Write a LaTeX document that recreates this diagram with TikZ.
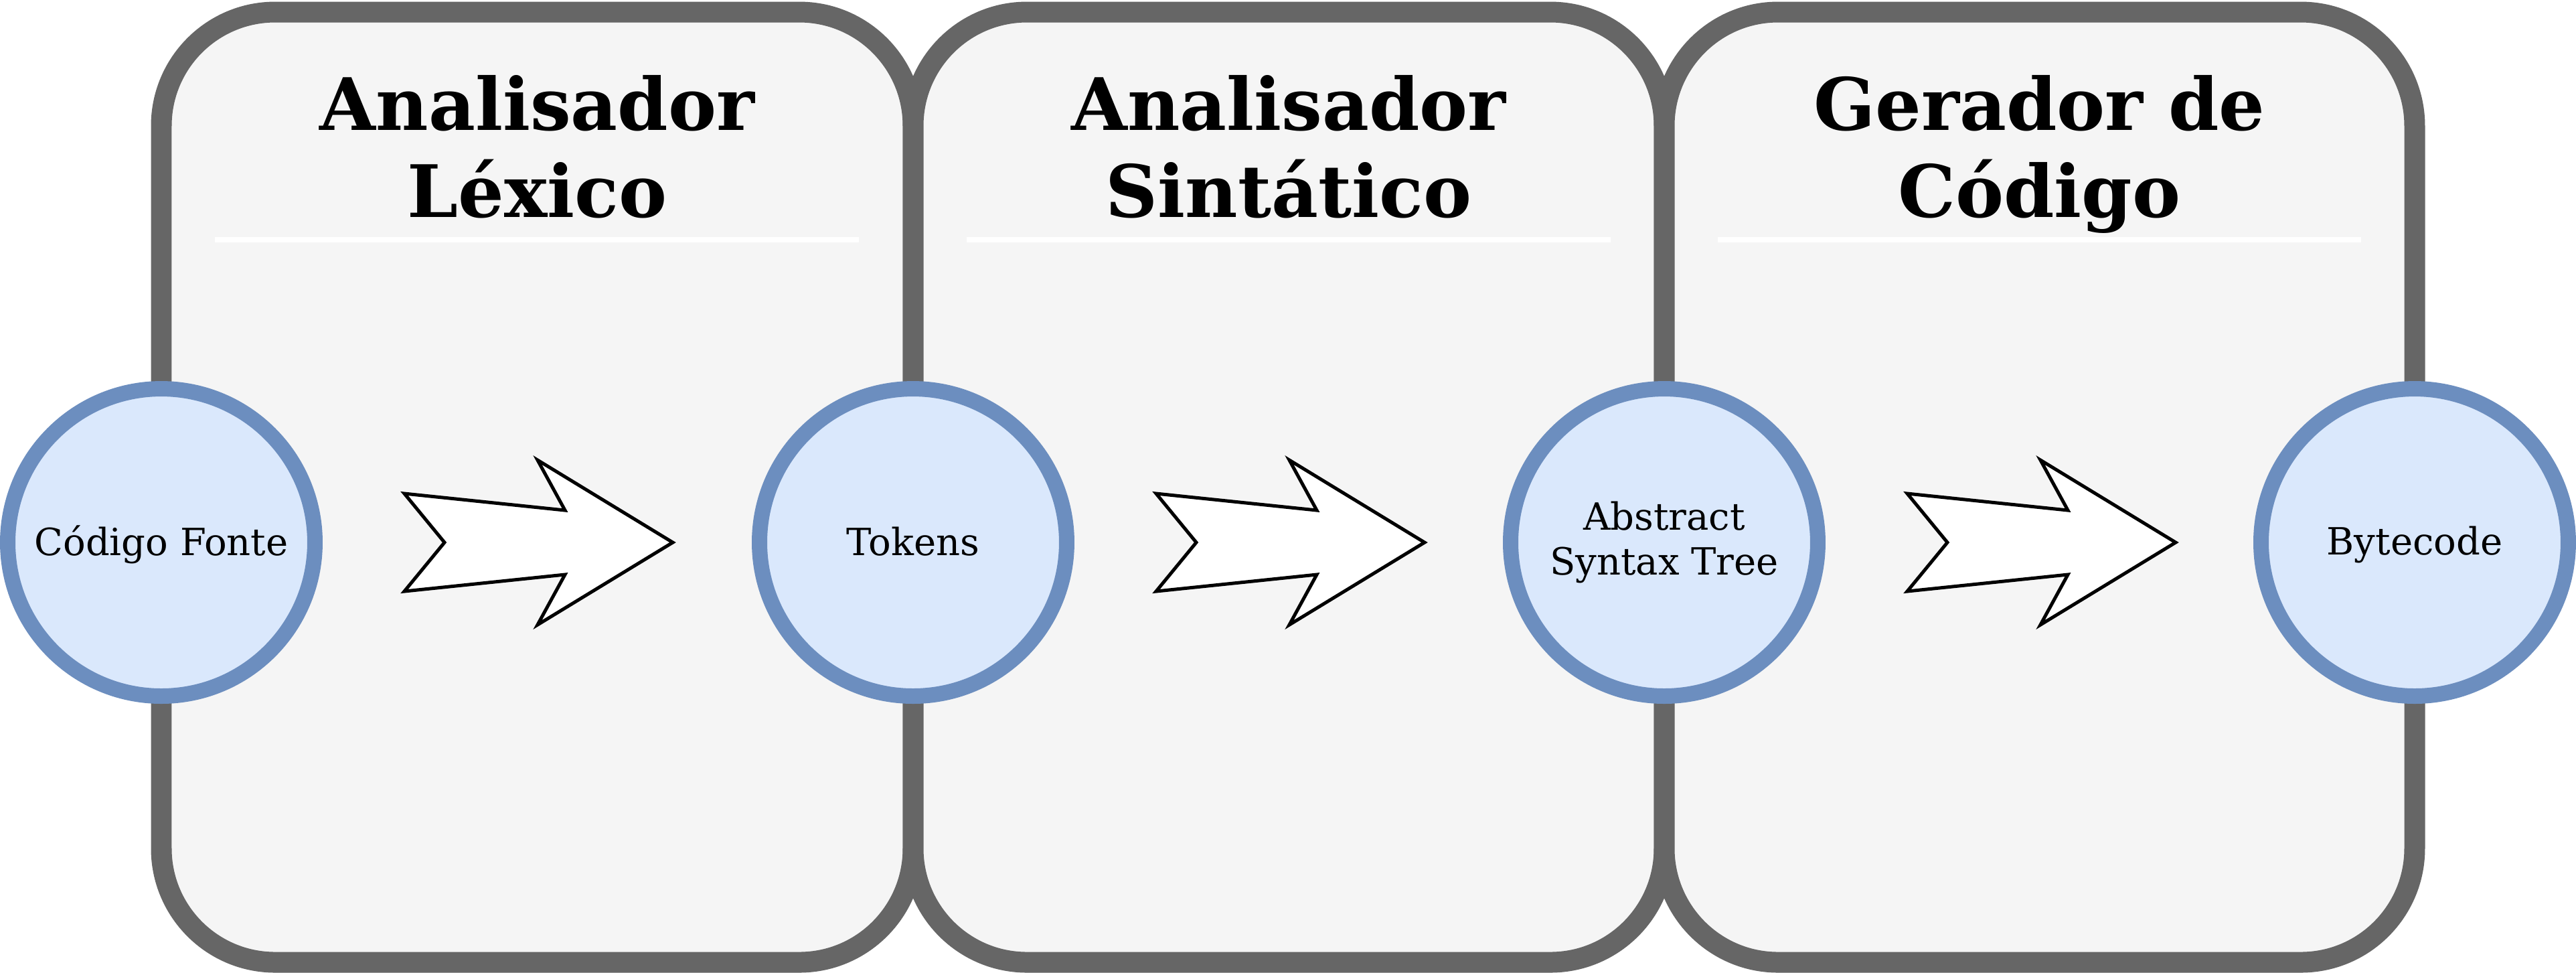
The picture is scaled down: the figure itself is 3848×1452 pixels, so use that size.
\documentclass[tikz,border=0pt]{standalone}
\usepackage{fontspec}
\setmainfont{DejaVu Serif}
\definecolor{boxfill}{HTML}{F5F5F5}
\definecolor{boxline}{HTML}{666666}
\definecolor{cfill}{HTML}{DAE8FC}
\definecolor{cline}{HTML}{6C8EBF}
\begin{document}
\begin{tikzpicture}[x=0.1pt,y=-0.1pt,
  stage/.style={draw=boxline,fill=boxfill,line width=3.1pt,rounded corners=17pt},
  datanode/.style={circle,draw=cline,fill=cfill,line width=2.3pt,minimum size=45.9pt,inner sep=0pt},
  title/.style={font=\bfseries\fontsize{10.8}{13}\selectfont,anchor=base,inner sep=0pt},
  lbl/.style={font=\fontsize{5.6}{6.7}\selectfont,anchor=base,inner sep=0pt},
  sep/.style={draw=white,line width=0.8pt},
  blockarrow/.style={draw=black,fill=white,line width=0.5pt,line join=miter}]
\useasboundingbox (0,0) rectangle (3848,1452);
% stages
\draw[stage] (241,18) rectangle (1364,1437);
\draw[stage] (1364,18) rectangle (2486,1437);
\draw[stage] (2486,18) rectangle (3607,1437);
% titles
\node[title] (h1a) at (802.5,194) {Analisador};
\node[title] (h1b) at (802.5,324) {Léxico};
\node[title] (h2a) at (1925,194) {Analisador};
\node[title] (h2b) at (1925,324) {Sintático};
\node[title] (h3a) at (3046.5,194) {Gerador de};
\node[title] (h3b) at (3046.5,324) {Código};
% separators
\draw[sep] (321,358) -- (1283,358);
\draw[sep] (1444,358) -- (2406,358);
\draw[sep] (2566,358) -- (3527,358);
% data nodes
\node[datanode] (c1) at (241,810) {};
\node[datanode] (c2) at (1364,810) {};
\node[datanode] (c3) at (2486,810) {};
\node[datanode] (c4) at (3607,810) {};
\node[lbl] (t1) at (241,829) {Código Fonte};
\node[lbl] (t2) at (1364,829) {Tokens};
\node[lbl] (t3a) at (2486,791) {Abstract};
\node[lbl] (t3b) at (2486,858) {Syntax Tree};
\node[lbl] (t4) at (3607,828) {Bytecode};
% block arrows
\foreach \c in {c1,c2,c3}{
  \begin{scope}[shift={(\c.center)}]
    \draw[blockarrow] (363,-73) -- (423,0) -- (363,73) -- (603,48) -- (562,123)
      -- (764,0) -- (562,-123) -- (603,-48) -- cycle;
  \end{scope}
}
\end{tikzpicture}
\end{document}
